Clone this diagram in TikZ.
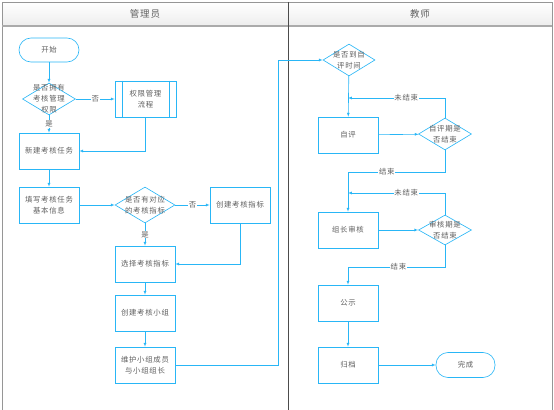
\documentclass[tikz,border=0pt]{standalone}
\usepackage{fontspec}
\usepackage{tikz}
\usetikzlibrary{shapes.geometric,arrows}
\newfontfamily\cjk[LetterSpace=10]{Noto Sans CJK SC}
\definecolor{flowblue}{RGB}{41,182,246}
\definecolor{txtgray}{RGB}{95,95,95}
\definecolor{lanegray}{RGB}{150,150,150}

\begin{document}
\begin{tikzpicture}[x=0.05cm,y=-0.05cm,
  font=\cjk\fontsize{10.5}{16.5}\selectfont,
  box/.style={draw=flowblue,line width=0.9pt,fill=white,text=txtgray,align=center,
    minimum width=3cm,minimum height=1.8cm,inner sep=0pt},
  term/.style={box,minimum height=1.2cm,rounded corners=0.6cm},
  decision/.style={draw=flowblue,line width=0.9pt,fill=white,diamond,inner sep=0pt,
    minimum width=2.65cm,minimum height=1.6cm},
  dtext/.style={text=txtgray,align=center,font=\cjk\fontsize{10.5}{15.5}\selectfont},
  conn/.style={draw=flowblue,line width=0.9pt,-latex},
  lbl/.style={fill=white,text=txtgray,inner sep=1pt,font=\cjk\fontsize{10.5}{12}\selectfont}]

\useasboundingbox (0,0) rectangle (554,410);

%%%%%%%%%%%%%%%%%%%% lanes %%%%%%%%%%%%%%%%%%%%
\shade[top color=white,bottom color=gray!14] (2,2) rectangle (552,26);
\draw[lanegray,line width=1.2pt] (2,412) -- (2,2) -- (552,2) -- (552,412);
\draw[lanegray!80,line width=1.6pt] (2,26) -- (552,26);
\draw[black!70,line width=1pt] (288,2) -- (288,412);
\node[text=txtgray,font=\cjk\fontsize{13.5}{15}\selectfont] (hadmin) at (145,14) {管理员};
\node[text=txtgray,font=\cjk\fontsize{13.5}{15}\selectfont] (hteach) at (420,14) {教师};

%%%%%%%%%%%%%%%%%%%% 管理员 %%%%%%%%%%%%%%%%%%%%
\node[term] (start) at (49,50) {开始};
\node[decision,label={[dtext]center:是否拥有\\考核管理\\权限}] (hasright) at (49,99) {};
\node[box,minimum width=3.05cm] (rightproc) at (145.5,99) {权限管理\\流程};
\draw[flowblue,line width=0.9pt] ([xshift=0.4cm]rightproc.north west) -- ([xshift=0.4cm]rightproc.south west);
\draw[flowblue,line width=0.9pt] ([xshift=-0.35cm]rightproc.north east) -- ([xshift=-0.35cm]rightproc.south east);
\node[box] (newtask) at (49,151) {新建考核任务};
\node[box] (fillinfo) at (49,205) {填写考核任务\\基本信息};
\node[decision,minimum width=3cm,minimum height=1.8cm,label={[dtext]center:是否有对应\\的考核指标}] (hasindex) at (145,205) {};
\node[box] (newindex) at (240,205) {创建考核指标};
\node[box] (pickindex) at (145,264) {选择考核指标};
\node[box] (newgroup) at (145,313) {创建考核小组};
\node[box] (member) at (145,365) {维护小组成员\\与小组组长};

%%%%%%%%%%%%%%%%%%%% 教师 %%%%%%%%%%%%%%%%%%%%
\node[decision,minimum width=2.6cm,label={[dtext]center:是否到自\\评时间}] (selftime) at (349,60) {};
\node[box] (selfeval) at (348,135) {自评};
\node[decision,label={[dtext]center:自评期是\\否结束}] (selfend) at (445,134) {};
\node[box] (leadcheck) at (348,230) {组长审核};
\node[decision,minimum height=1.5cm,label={[dtext]center:审核期是\\否结束}] (checkend) at (445,230) {};
\node[box] (publish) at (348,303) {公示};
\node[box] (archive) at (348,365) {归档};
\node[term,minimum width=2.95cm,minimum height=1.25cm] (done) at (465.5,365) {完成};

\coordinate (upturn) at (278,60);
\coordinate (back1) at (348,98);
\coordinate (join1) at (445,172);
\coordinate (back2) at (348,193);
\coordinate (join2) at (445,267);

%%%%%%%%%%%%%%%%%%%% connectors %%%%%%%%%%%%%%%%%%%%
\draw[conn] (start) -- (hasright);
\draw[conn] (hasright) -- node[lbl] {否} (rightproc);
\draw[conn] (hasright) -- node[lbl] {是} (newtask);
\draw[conn] (rightproc.south) |- (newtask.east);
\draw[conn] (newtask) -- (fillinfo);
\draw[conn] (fillinfo) -- (hasindex);
\draw[conn] (hasindex) -- node[lbl] {否} (newindex);
\draw[conn] (hasindex) -- node[lbl] {是} (pickindex);
\draw[conn] (newindex.south) |- (pickindex.east);
\draw[conn] (pickindex) -- (newgroup);
\draw[conn] (newgroup) -- (member);
\draw[conn] (member.east) -| (upturn) -- (selftime.west);

\draw[conn] (selftime) -- (selfeval);
\draw[conn] (selfeval) -- (selfend);
\draw[conn] (selfend.north) |- node[lbl,pos=0.7] {未结束} (back1);
\draw[conn] (selfend.south) -- (join1) -| node[lbl,pos=0.3] {结束} (leadcheck.north);
\draw[conn] (leadcheck) -- (checkend);
\draw[conn] (checkend.north) |- node[lbl,pos=0.7] {未结束} (back2);
\draw[conn] (checkend.south) -- (join2) -| node[lbl,pos=0.24] {结束} (publish.north);
\draw[conn] (publish) -- (archive);
\draw[conn] (archive) -- (done);

\end{tikzpicture}
\end{document}
